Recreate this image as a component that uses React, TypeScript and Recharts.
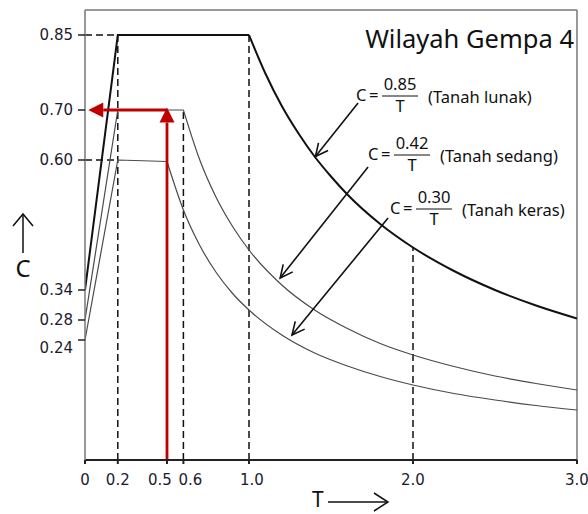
import React from 'react';
import { LineChart, Line, XAxis, YAxis, ReferenceLine } from 'recharts';

// ---- data ----
const soilNames = ['(Tanah lunak)', '(Tanah sedang)', '(Tanah keras)'];
const numerators = ['0.85', '0.42', '0.30'];

const lunakRise = [
  { t: 0, c: 0.34 },
  { t: 0.2, c: 0.85 },
  { t: 1.0, c: 0.85 },
];
const lunakDecay = [
  { t: 1.0, c: 0.85 }, { t: 1.1, c: 0.773 }, { t: 1.2, c: 0.708 }, { t: 1.3, c: 0.654 },
  { t: 1.4, c: 0.607 }, { t: 1.5, c: 0.567 }, { t: 1.6, c: 0.531 }, { t: 1.8, c: 0.472 },
  { t: 2.0, c: 0.425 }, { t: 2.25, c: 0.378 }, { t: 2.5, c: 0.34 }, { t: 2.75, c: 0.309 },
  { t: 3.0, c: 0.283 },
];
const sedangRise = [
  { t: 0, c: 0.28 },
  { t: 0.2, c: 0.70 },
  { t: 0.6, c: 0.70 },
];
const sedangDecay = [
  { t: 0.6, c: 0.70 }, { t: 0.7, c: 0.60 }, { t: 0.8, c: 0.525 }, { t: 0.9, c: 0.467 },
  { t: 1.0, c: 0.42 }, { t: 1.2, c: 0.35 }, { t: 1.4, c: 0.30 }, { t: 1.6, c: 0.263 },
  { t: 1.8, c: 0.233 }, { t: 2.0, c: 0.21 }, { t: 2.25, c: 0.187 }, { t: 2.5, c: 0.168 },
  { t: 2.75, c: 0.153 }, { t: 3.0, c: 0.14 },
];
const kerasRise = [
  { t: 0, c: 0.24 },
  { t: 0.2, c: 0.60 },
  { t: 0.5, c: 0.597 },
];
const kerasDecay = [
  { t: 0.5, c: 0.597 }, { t: 0.6, c: 0.50 }, { t: 0.7, c: 0.429 }, { t: 0.8, c: 0.375 },
  { t: 0.9, c: 0.333 }, { t: 1.0, c: 0.30 }, { t: 1.2, c: 0.25 }, { t: 1.4, c: 0.214 },
  { t: 1.6, c: 0.188 }, { t: 1.8, c: 0.167 }, { t: 2.0, c: 0.15 }, { t: 2.25, c: 0.133 },
  { t: 2.5, c: 0.12 }, { t: 2.75, c: 0.109 }, { t: 3.0, c: 0.10 },
];

const xTicks = [0, 0.2, 0.5, 0.6, 1.0, 2.0, 3.0];
const xTickLabels = ['0', '0.2', '0.5', '0.6', '1.0', '2.0', '3.0'];
const yTicks = [0.24, 0.28, 0.34, 0.6, 0.7, 0.85];
const yTickLabels = ['0.24', '0.28', '0.34', '0.60', '0.70', '0.85'];

// dashed guide lines
const hGuides = [
  { c: 0.85, t0: 0, t1: 0.2 },
  { c: 0.6, t0: 0, t1: 0.2 },
];
const vGuides = [
  { t: 0.2, c: 0.85 },
  { t: 0.6, c: 0.7 },
  { t: 1.0, c: 0.85 },
  { t: 2.0, c: 0.425 },
];

// design point (red arrows)
const designT = 0.5;
const designC = 0.7;

// pointer arrows from the formulas to the curves [t1, c1, t2, c2]
const pointerArrows = [
  [1.665, 0.714, 1.405, 0.607],
  [1.726, 0.586, 1.19, 0.364],
  [1.848, 0.484, 1.262, 0.25],
];

const FONT = '"DejaVu Sans", Verdana, sans-serif';
const LFONT = '"Noto Sans", "Open Sans", sans-serif';

const openArrow = (props: any) => {
  const { x1, y1, x2, y2 } = props;
  const ang = Math.atan2(y2 - y1, x2 - x1);
  const L = 14;
  const spread = 0.45;
  const ax = x2 - L * Math.cos(ang - spread);
  const ay = y2 - L * Math.sin(ang - spread);
  const bx = x2 - L * Math.cos(ang + spread);
  const by = y2 - L * Math.sin(ang + spread);
  return (
    <g>
      <line x1={x1} y1={y1} x2={x2} y2={y2} stroke="#111" strokeWidth={1.6} />
      <polyline points={`${ax},${ay} ${x2},${y2} ${bx},${by}`} fill="none" stroke="#111" strokeWidth={1.6} />
    </g>
  );
};

const redArrow = (props: any) => {
  const { x1, y1, x2, y2 } = props;
  const ang = Math.atan2(y2 - y1, x2 - x1);
  const L = 15;
  const hw = 7.5;
  const bx = x2 - L * Math.cos(ang);
  const by = y2 - L * Math.sin(ang);
  const px = -Math.sin(ang);
  const py = Math.cos(ang);
  return (
    <g>
      <line x1={x1} y1={y1} x2={bx} y2={by} stroke="#c00000" strokeWidth={2.8} />
      <polygon
        points={`${x2},${y2} ${bx + px * hw},${by + py * hw} ${bx - px * hw},${by - py * hw}`}
        fill="#c00000"
      />
    </g>
  );
};

const YTick = (props: any) => {
  const { x, y, payload } = props;
  const i = yTicks.indexOf(payload.value);
  const off = payload.value === 0.24 ? 8 : 0;
  return (
    <text x={x} y={y + off} dy="0.36em" textAnchor="end" fontSize={15} fill="#1c1c2c" fontFamily={FONT}>
      {yTickLabels[i]}
    </text>
  );
};

const XTick = (props: any) => {
  const { x, y, payload } = props;
  const i = xTicks.indexOf(payload.value);
  const off = payload.value === 0.5 ? -7 : payload.value === 0.6 ? 7 : payload.value === 1 ? 3 : 0;
  return (
    <text x={x + off} y={y} dy="0.71em" textAnchor="middle" fontSize={15} fill="#1c1c2c" fontFamily={FONT}>
      {xTickLabels[i]}
    </text>
  );
};

const Formula = ({ x, y, num, name }: { x: number; y: number; num: string; name: string }) => (
  <g fontFamily={LFONT} fontSize={16.5} fill="#111">
    <text x={x} y={y}>C</text>
    <text x={x + 13} y={y}>=</text>
    <line x1={x + 26} y1={y - 5} x2={x + 62} y2={y - 5} stroke="#111" strokeWidth={1.2} />
    <text x={x + 44} y={y - 11} textAnchor="middle">{num}</text>
    <text x={x + 44} y={y + 11} textAnchor="middle">T</text>
    <text x={x + 72} y={y + 2}>{name}</text>
  </g>
);

const formulaPos = [
  { x: 356, y: 101 },
  { x: 368, y: 160 },
  { x: 390, y: 214 },
];

export default function App() {
  return (
    <div style={{ position: 'absolute', left: 0, top: 0, width: 588, height: 514 }}>
      <LineChart width={588} height={514} margin={{ top: 10, right: 11, left: 0, bottom: 0 }}>
        <XAxis
          type="number"
          dataKey="t"
          domain={[0, 3]}
          ticks={xTicks}
          interval={0}
          height={54}
          tick={<XTick />}
          tickSize={4}
          tickMargin={10}
          axisLine={{ stroke: '#222', strokeWidth: 2 }}
          tickLine={{ stroke: '#222', strokeWidth: 2 }}
          allowDataOverflow
        />
        <YAxis
          type="number"
          domain={[0, 0.9]}
          ticks={yTicks}
          interval={0}
          width={85}
          tick={<YTick />}
          tickSize={7}
          tickMargin={5}
          axisLine={{ stroke: '#777', strokeWidth: 1.5 }}
          tickLine={{ stroke: '#222', strokeWidth: 1.5 }}
          allowDataOverflow
        />
        {/* frame */}
        <ReferenceLine y={0.9} stroke="#777" strokeWidth={1.5} />
        <ReferenceLine x={3} stroke="#777" strokeWidth={1.5} />

        {/* dashed guides */}
        {hGuides.map((g, i) => (
          <ReferenceLine
            key={`h${i}`}
            segment={[{ x: g.t0, y: g.c }, { x: g.t1, y: g.c }]}
            stroke="#111"
            strokeWidth={1.5}
            strokeDasharray="7 4"
          />
        ))}
        {vGuides.map((g, i) => (
          <ReferenceLine
            key={`v${i}`}
            segment={[{ x: g.t, y: 0 }, { x: g.t, y: g.c }]}
            stroke="#111"
            strokeWidth={1.5}
            strokeDasharray="7 4"
          />
        ))}

        {/* spectra */}
        <Line data={kerasRise} dataKey="c" type="linear" stroke="#4a4a4a" strokeWidth={1.2} dot={false} isAnimationActive={false} />
        <Line data={kerasDecay} dataKey="c" type="monotone" stroke="#4a4a4a" strokeWidth={1.2} dot={false} isAnimationActive={false} />
        <Line data={sedangRise} dataKey="c" type="linear" stroke="#4a4a4a" strokeWidth={1.2} dot={false} isAnimationActive={false} />
        <Line data={sedangDecay} dataKey="c" type="monotone" stroke="#4a4a4a" strokeWidth={1.2} dot={false} isAnimationActive={false} />
        <Line data={lunakRise} dataKey="c" type="linear" stroke="#111" strokeWidth={2} dot={false} isAnimationActive={false} />
        <Line data={lunakDecay} dataKey="c" type="monotone" stroke="#111" strokeWidth={2} dot={false} isAnimationActive={false} />

        {/* pointer arrows */}
        {pointerArrows.map((a, i) => (
          <ReferenceLine key={`p${i}`} segment={[{ x: a[0], y: a[1] }, { x: a[2], y: a[3] }]} shape={openArrow} />
        ))}

        {/* red design arrows */}
        <ReferenceLine segment={[{ x: designT, y: 0 }, { x: designT, y: designC + 0.005 }]} shape={redArrow} />
        <ReferenceLine segment={[{ x: designT, y: designC }, { x: 0.02, y: designC }]} shape={redArrow} />
      </LineChart>

      <svg
        width={588}
        height={514}
        style={{ position: 'absolute', left: 0, top: 0, pointerEvents: 'none' }}
      >
        <text x={574} y={48} textAnchor="end" fontFamily={LFONT} fontSize={25.5} fill="#111">
          Wilayah Gempa 4
        </text>
        {formulaPos.map((p, i) => (
          <Formula key={i} x={p.x} y={p.y} num={numerators[i]} name={soilNames[i]} />
        ))}
        {/* C axis label with arrow */}
        <text x={23} y={277} textAnchor="middle" fontFamily={LFONT} fontSize={24} fill="#111">C</text>
        <line x1={23} y1={253} x2={23} y2={214} stroke="#111" strokeWidth={1.5} />
        <polyline points="13,226 23,214 33,226" fill="none" stroke="#111" strokeWidth={1.5} />
        {/* T axis label with arrow */}
        <text x={312} y={507} fontFamily={LFONT} fontSize={21} fill="#111">T</text>
        <line x1={328} y1={502} x2={388} y2={502} stroke="#111" strokeWidth={1.5} />
        <polyline points="374,493 388,502 374,511" fill="none" stroke="#111" strokeWidth={1.5} />
      </svg>
    </div>
  );
}
